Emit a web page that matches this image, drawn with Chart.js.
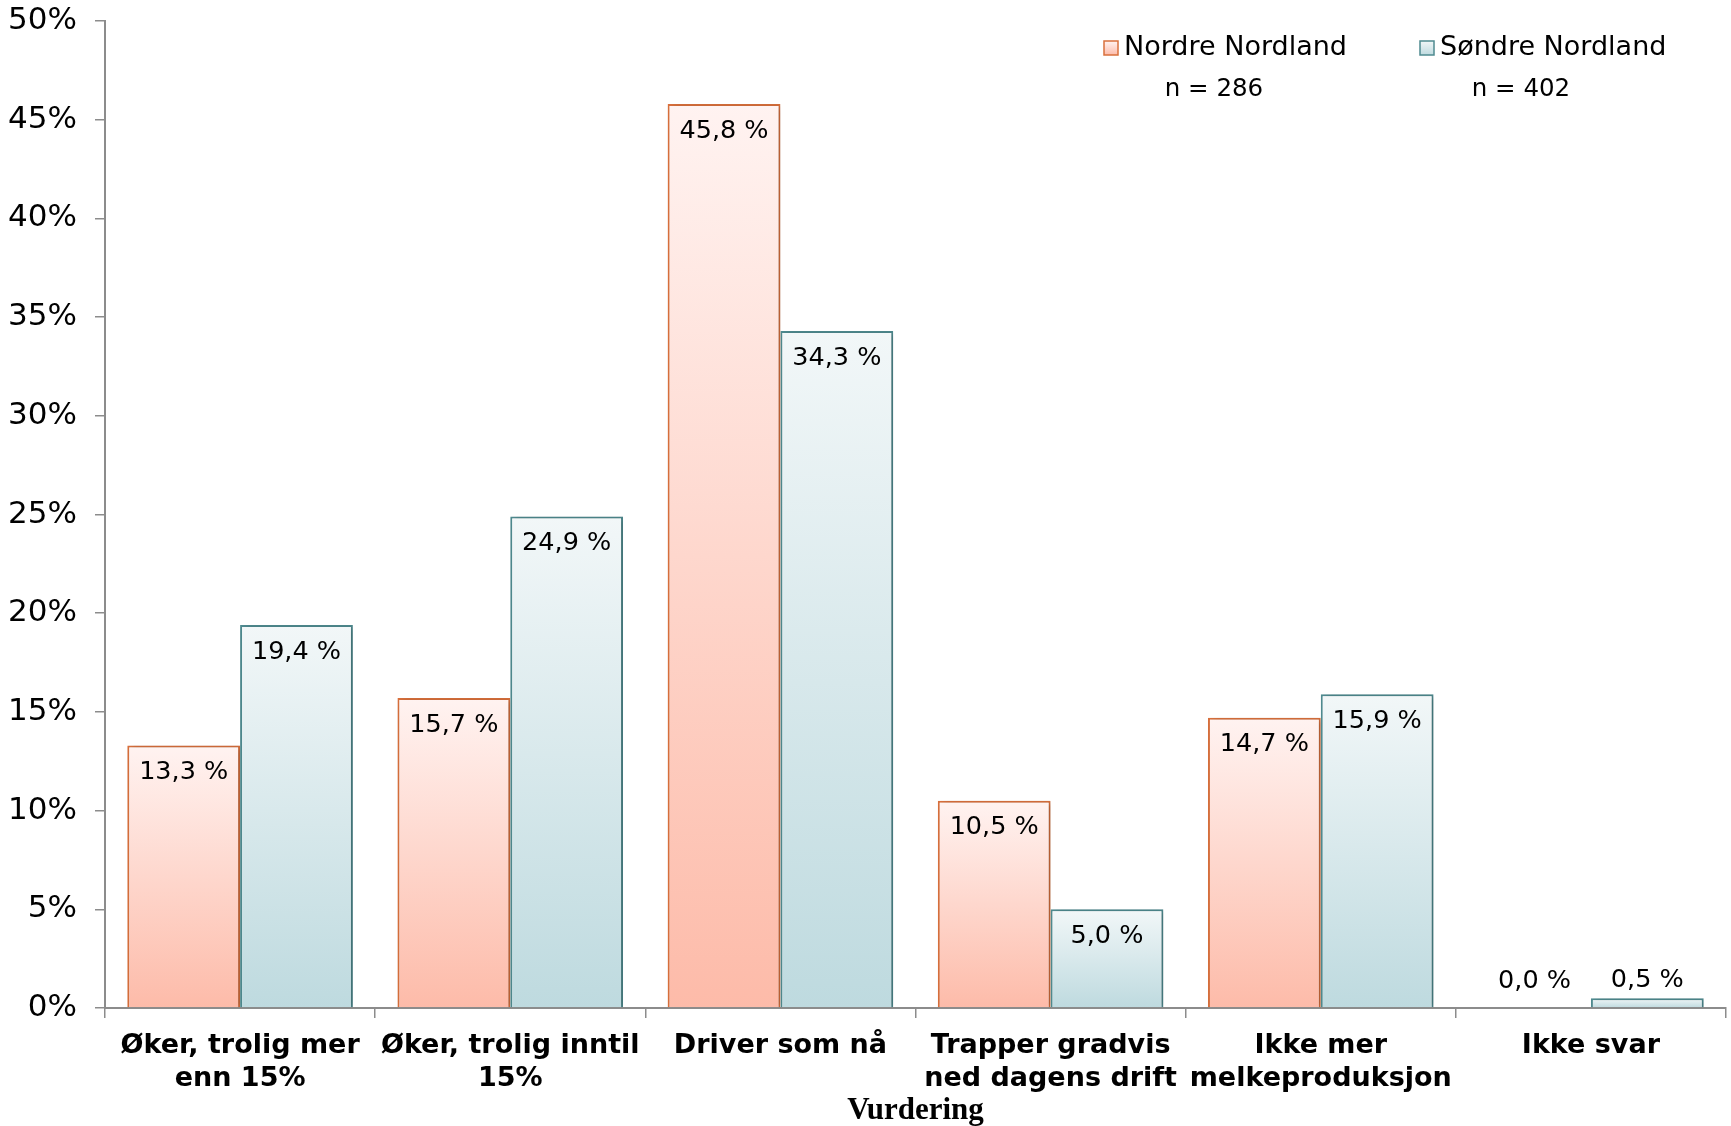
<!DOCTYPE html>
<html>
<head>
<meta charset="utf-8">
<script src="https://cdn.jsdelivr.net/npm/chart.js@4/dist/chart.umd.min.js"></script>
<style>
    html, body { margin: 0; padding: 0; background: #fff; }
    #wrap { width: 1731px; height: 1126px; position: relative; }
</style>
</head>
<body>
<div id="wrap"><canvas id="chart"></canvas></div>
<script>
const categories = [
    ['Øker, trolig mer', 'enn 15%'],
    ['Øker, trolig inntil', '15%'],
    'Driver som nå',
    ['Trapper gradvis', 'ned dagens drift'],
    ['Ikke mer', 'melkeproduksjon'],
    'Ikke svar'
];
const seriesNames = ['Nordre Nordland', 'Søndre Nordland'];
const sampleSizes = ['n = 286', 'n = 402'];
const nordre = [13.3, 15.7, 45.8, 10.5, 14.7, 0.0];
const sondre = [19.4, 24.9, 34.3, 5.0, 15.9, 0.5];
const yTicks = [0, 5, 10, 15, 20, 25, 30, 35, 40, 45, 50];

const palettes = [
    { top: '#fff3f1', bottom: '#fdbba9', border: '#d9703c' },
    { top: '#f2f7f8', bottom: '#bedadf', border: '#4f8b90' }
];

function barGradient(pal) {
    return function(ctx) {
        const chart = ctx.chart;
        const yScale = chart.scales.y;
        if (!yScale || ctx.type !== 'data') return pal.bottom;
        const top = yScale.getPixelForValue(ctx.raw);
        const base = yScale.getPixelForValue(0);
        if (!isFinite(top) || !isFinite(base) || base - top < 1) return pal.top;
        const g = chart.ctx.createLinearGradient(0, top, 0, base);
        g.addColorStop(0, pal.top);
        g.addColorStop(1, pal.bottom);
        return g;
    };
}

const shadowPlugin = {
    id: 'barShadow',
    beforeDatasetsDraw(chart) {
        const c = chart.ctx;
        c.save();
        c.shadowColor = 'rgba(0,0,0,0.22)';
        c.shadowBlur = 6;
        c.shadowOffsetX = 3;
        c.shadowOffsetY = 1;
    },
    afterDatasetsDraw(chart) {
        chart.ctx.restore();
    }
};

const valueLabels = {
    id: 'valueLabels',
    afterDatasetsDraw(chart) {
        const c = chart.ctx;
        c.save();
        c.font = '25.5px "DejaVu Sans"';
        c.fillStyle = '#000';
        c.textAlign = 'center';
        c.textBaseline = 'middle';
        chart.data.datasets.forEach((ds, i) => {
            chart.getDatasetMeta(i).data.forEach((bar, j) => {
                const txt = ds.data[j].toFixed(1).replace('.', ',') + ' %';
                const h = bar.base - bar.y;
                const y = h > 45 ? bar.y + 27 : bar.base - 27;
                c.fillText(txt, bar.x, y);
            });
        });
        c.restore();
    }
};

const legendPlugin = {
    id: 'customLegend',
    afterDraw(chart) {
        const c = chart.ctx;
        const spots = [{ x: 1104, nx: 1214 }, { x: 1420, nx: 1521 }];
        c.save();
        seriesNames.forEach((name, i) => {
            const s = spots[i];
            const pal = palettes[i];
            const g = c.createLinearGradient(0, 41, 0, 55);
            g.addColorStop(0, pal.top);
            g.addColorStop(1, pal.bottom);
            c.fillStyle = g;
            c.fillRect(s.x, 41, 14, 14);
            c.strokeStyle = pal.border;
            c.lineWidth = 1.5;
            c.strokeRect(s.x, 41, 14, 14);
            c.fillStyle = '#000';
            c.font = '27px "DejaVu Sans"';
            c.textAlign = 'left';
            c.textBaseline = 'middle';
            c.fillText(name, s.x + 20, 48);
            c.font = '24.5px "DejaVu Sans"';
            c.textAlign = 'center';
            c.fillText(sampleSizes[i], s.nx, 90);
        });
        c.restore();
    }
};

new Chart(document.getElementById('chart'), {
    type: 'bar',
    data: {
        labels: categories,
        datasets: [
            {
                label: seriesNames[0],
                data: nordre,
                backgroundColor: barGradient(palettes[0]),
                borderColor: palettes[0].border,
                borderWidth: 2,
                borderSkipped: 'bottom'
            },
            {
                label: seriesNames[1],
                data: sondre,
                backgroundColor: barGradient(palettes[1]),
                borderColor: palettes[1].border,
                borderWidth: 2,
                borderSkipped: 'bottom'
            }
        ]
    },
    options: {
        responsive: true,
        maintainAspectRatio: false,
        animation: false,
        datasets: { bar: { categoryPercentage: 0.835, barPercentage: 1.0 } },
        layout: { padding: { top: 21, right: 5, left: 0, bottom: 0 } },
        plugins: {
            legend: { display: false },
            tooltip: { enabled: false }
        },
        scales: {
            x: {
                grid: {
                    display: true,
                    drawOnChartArea: false,
                    offset: true,
                    tickLength: 10,
                    color: '#8c8c8c',
                    lineWidth: 1.5
                },
                border: { display: true, color: '#8c8c8c', width: 2 },
                ticks: {
                    color: '#000',
                    padding: 12,
                    maxRotation: 0,
                    autoSkip: false,
                    font: { family: '"DejaVu Sans"', size: 27, weight: 'bold', lineHeight: 1.2 }
                },
                title: {
                    display: true,
                    text: 'Vurdering',
                    color: '#000',
                    padding: { top: 0, bottom: 0 },
                    font: { family: '"Liberation Serif"', size: 31, weight: 'bold', lineHeight: 1.0 }
                },
                afterFit(scale) {
                    scale.height = 118;
                    scale.paddingLeft = 0;
                    scale.paddingRight = 0;
                }
            },
            y: {
                min: 0,
                max: 50,
                afterBuildTicks(scale) {
                    scale.ticks = yTicks.map(v => ({ value: v }));
                },
                grid: {
                    display: true,
                    drawOnChartArea: false,
                    tickLength: 10,
                    color: '#8c8c8c',
                    lineWidth: 1.5
                },
                border: { display: true, color: '#8c8c8c', width: 2 },
                ticks: {
                    color: '#000',
                    padding: 18,
                    font: { family: '"DejaVu Sans"', size: 31 },
                    callback: v => v + '%'
                },
                afterFit(scale) {
                    scale.width = 105;
                    scale.paddingTop = 0;
                    scale.paddingBottom = 0;
                }
            }
        }
    },
    plugins: [shadowPlugin, valueLabels, legendPlugin]
});
</script>
</body>
</html>
